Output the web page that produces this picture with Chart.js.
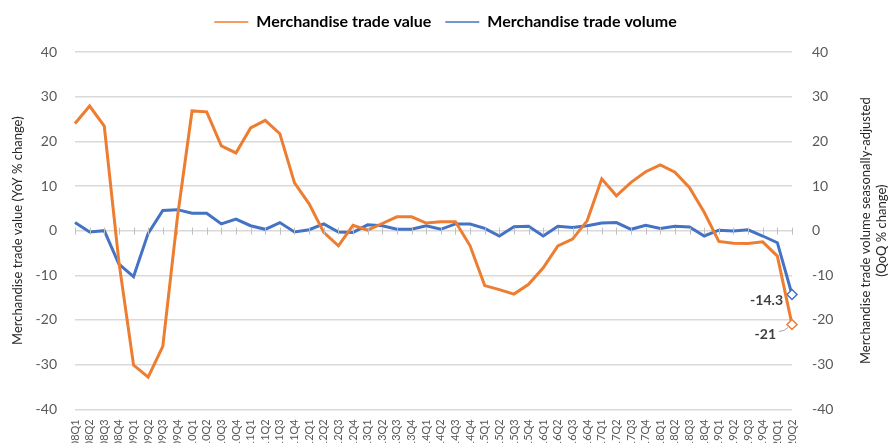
<!DOCTYPE html>
<html>
<head>
<meta charset="utf-8">
<script src="https://cdn.jsdelivr.net/npm/chart.js@4.4.1/dist/chart.umd.min.js"></script>
<style>
    body { margin: 0; background: #fff; overflow: hidden; }
    #chartBox { width: 891px; height: 462px; position: relative; }
</style>
</head>
<body>
<div id="chartBox"><canvas id="tradeChart"></canvas></div>
<script>
// Quarters shown on the x axis
const quarters = [
    '2008Q1', '2008Q2', '2008Q3', '2008Q4', '2009Q1', '2009Q2', '2009Q3', '2009Q4',
    '2010Q1', '2010Q2', '2010Q3', '2010Q4', '2011Q1', '2011Q2', '2011Q3', '2011Q4',
    '2012Q1', '2012Q2', '2012Q3', '2012Q4', '2013Q1', '2013Q2', '2013Q3', '2013Q4',
    '2014Q1', '2014Q2', '2014Q3', '2014Q4', '2015Q1', '2015Q2', '2015Q3', '2015Q4',
    '2016Q1', '2016Q2', '2016Q3', '2016Q4', '2017Q1', '2017Q2', '2017Q3', '2017Q4',
    '2018Q1', '2018Q2', '2018Q3', '2018Q4', '2019Q1', '2019Q2', '2019Q3', '2019Q4',
    '2020Q1', '2020Q2'
];

// Merchandise trade value, YoY % change (left axis)
const tradeValue = [
    24.0, 27.9, 23.4, -7, -30.1, -32.8, -25.9, 3, 26.8, 26.6,
    19.0, 17.4, 23.0, 24.7, 21.7, 10.7, 6, -0.4, -3.4, 1.2,
    0.1, 1.6, 3.1, 3.1, 1.7, 2.0, 2.0, -3.4, -12.3, -13.2,
    -14.2, -12.0, -8.3, -3.4, -1.9, 2.2, 11.6, 7.8, 10.8, 13.2,
    14.7, 13.1, 9.6, 4.1, -2.4, -2.8, -2.9, -2.5, -5.7, -21
];

// Merchandise trade volume, seasonally adjusted QoQ % change (right axis)
const tradeVolume = [
    1.8, -0.3, 0, -7.5, -10.3, -0.6, 4.5, 4.7, 3.9, 3.9,
    1.5, 2.6, 1.1, 0.3, 1.8, -0.3, 0.2, 1.5, -0.3, -0.4,
    1.3, 1.1, 0.3, 0.3, 1.1, 0.3, 1.5, 1.5, 0.5, -1.2,
    0.9, 1.0, -1.2, 1.0, 0.7, 1.1, 1.7, 1.8, 0.3, 1.2,
    0.5, 1.0, 0.8, -1.2, 0.1, -0.1, 0.2, -1.2, -2.7, -14.3
];

const ORANGE = '#ED7D31';
const BLUE = '#4472C4';
const FONT = 'Lato, "Open Sans", sans-serif';

// only the last point gets a marker (diamond)
function lastOnly(arr, size) {
    return arr.map((v, i) => i === arr.length - 1 ? size : 0);
}

// push the plot area down a bit below the legend
const legendGapPlugin = {
    id: 'legendGap',
    beforeInit(chart) {
        const origFit = chart.legend.fit;
        chart.legend.fit = function () {
            origFit.bind(chart.legend)();
            this.height += 12;
        };
    }
};

// axis titles, zero-line tick marks and the end labels
const extrasPlugin = {
    id: 'extras',
    afterDatasetsDraw(chart) {
        const ctx = chart.ctx;
        const area = chart.chartArea;
        const x = chart.scales.x;
        const y = chart.scales.y;
        const y1 = chart.scales.y1;
        const midY = (area.top + area.bottom) / 2;

        ctx.save();
        ctx.fillStyle = '#262626';
        ctx.font = '13px ' + FONT;
        ctx.textAlign = 'center';
        ctx.textBaseline = 'middle';

        ctx.save();
        ctx.translate(18, midY);
        ctx.rotate(-Math.PI / 2);
        ctx.fillText('Merchandise trade value (YoY % change)', 0, 0);
        ctx.restore();

        ctx.save();
        ctx.translate(866, midY);
        ctx.rotate(-Math.PI / 2);
        ctx.fillText('Merchandise trade volume seasonally-adjusted', 0, 0);
        ctx.fillText('(QoQ % change)', 0, 16);
        ctx.restore();

        // tick marks along the zero line
        const zeroY = y.getPixelForValue(0);
        ctx.strokeStyle = '#bfbfbf';
        ctx.lineWidth = 1;
        ctx.beginPath();
        for (let i = 0; i < quarters.length; i++) {
            const px = Math.round(x.getPixelForValue(i)) + 0.5;
            ctx.moveTo(px, zeroY - 3);
            ctx.lineTo(px, zeroY + 4);
        }
        ctx.stroke();

        // end-point labels
        const last = quarters.length - 1;
        const lx = x.getPixelForValue(last);
        const volY = y1.getPixelForValue(tradeVolume[last]);
        const valY = y.getPixelForValue(tradeValue[last]);
        ctx.fillStyle = '#404040';
        ctx.font = 'bold 14px ' + FONT;
        ctx.textAlign = 'right';
        ctx.fillText(tradeVolume[last].toString(), lx - 9, volY + 6);
        ctx.fillText(tradeValue[last].toString(), lx - 16, valY + 10);

        ctx.strokeStyle = '#a6a6a6';
        ctx.beginPath();
        ctx.moveTo(lx - 13, valY + 7);
        ctx.lineTo(lx - 8, valY + 6);
        ctx.lineTo(lx - 4, valY + 3);
        ctx.stroke();
        ctx.restore();
    }
};

const chartCtx = document.getElementById('tradeChart').getContext('2d');
new Chart(chartCtx, {
    type: 'line',
    data: {
        labels: quarters,
        datasets: [
            {
                label: 'Merchandise trade value',
                data: tradeValue,
                yAxisID: 'y',
                borderColor: ORANGE,
                backgroundColor: '#ffffff',
                borderWidth: 3,
                tension: 0,
                pointStyle: 'rectRot',
                pointRadius: lastOnly(tradeValue, 5),
                pointBorderWidth: 1.5,
                pointBorderColor: ORANGE,
                pointBackgroundColor: '#ffffff'
            },
            {
                label: 'Merchandise trade volume',
                data: tradeVolume,
                yAxisID: 'y1',
                borderColor: BLUE,
                backgroundColor: '#ffffff',
                borderWidth: 3,
                tension: 0,
                pointStyle: 'rectRot',
                pointRadius: lastOnly(tradeVolume, 5),
                pointBorderWidth: 1.5,
                pointBorderColor: BLUE,
                pointBackgroundColor: '#ffffff'
            }
        ]
    },
    options: {
        responsive: true,
        maintainAspectRatio: false,
        animation: false,
        layout: { padding: { top: 0, right: 0, left: 0, bottom: 0 } },
        plugins: {
            legend: {
                position: 'top',
                labels: {
                    usePointStyle: true,
                    pointStyle: 'line',
                    pointStyleWidth: 34,
                    boxHeight: 6,
                    padding: 14,
                    color: '#000000',
                    font: { family: FONT, size: 16, weight: 'bold' }
                }
            },
            tooltip: { enabled: false }
        },
        scales: {
            x: {
                offset: false,
                grid: { display: false },
                border: { display: false },
                ticks: {
                    autoSkip: false,
                    maxRotation: 90,
                    minRotation: 90,
                    padding: 2,
                    color: '#595959',
                    font: { family: FONT, size: 11 }
                }
            },
            y: {
                position: 'left',
                min: -40,
                max: 40,
                afterFit: scale => { scale.width = 75; },
                ticks: {
                    stepSize: 10,
                    padding: 18,
                    color: '#595959',
                    font: { family: FONT, size: 14 }
                },
                grid: { color: '#d9d9d9', lineWidth: 1.5, drawTicks: false },
                border: { display: false }
            },
            y1: {
                position: 'right',
                min: -40,
                max: 40,
                afterFit: scale => { scale.width = 99; },
                ticks: {
                    stepSize: 10,
                    padding: 20,
                    color: '#595959',
                    font: { family: FONT, size: 14 }
                },
                grid: { display: false, drawTicks: false },
                border: { display: false }
            }
        }
    },
    plugins: [legendGapPlugin, extrasPlugin]
});
</script>
</body>
</html>
